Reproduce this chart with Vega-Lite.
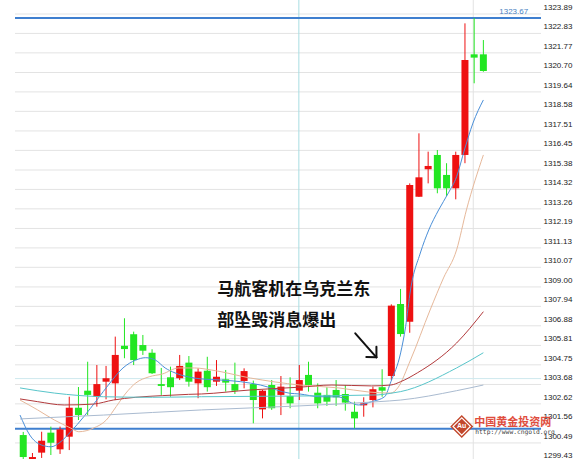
{
  "$schema": "https://vega.github.io/schema/vega-lite/v6.json",
  "width": 526,
  "height": 459,
  "autosize": {"type": "none"},
  "padding": {"left": 15, "top": 0, "right": 36, "bottom": 0},
  "background": "#ffffff",
  "config": {"view": {"stroke": null}, "font": "Liberation Sans"},
  "datasets": {
    "ticks": [
      {"v": 1323.89}, {"v": 1322.83}, {"v": 1321.77}, {"v": 1320.70}, {"v": 1319.64}, {"v": 1318.58},
      {"v": 1317.51}, {"v": 1316.45}, {"v": 1315.38}, {"v": 1314.32}, {"v": 1313.26}, {"v": 1312.19},
      {"v": 1311.13}, {"v": 1310.07}, {"v": 1309.00}, {"v": 1307.94}, {"v": 1306.88}, {"v": 1305.81},
      {"v": 1304.75}, {"v": 1303.68}, {"v": 1302.62}, {"v": 1301.56}, {"v": 1300.49}, {"v": 1299.43}
    ],
    "candles": [
      {"i": 0, "o": 1300.92, "c": 1299.72, "h": 1301.09, "l": 1299.01, "d": "down"},
      {"i": 1, "o": 1299.01, "c": 1299.72, "h": 1299.94, "l": 1298.74, "d": "up"},
      {"i": 2, "o": 1299.96, "c": 1300.61, "h": 1301.10, "l": 1299.67, "d": "up"},
      {"i": 3, "o": 1301.05, "c": 1300.50, "h": 1301.38, "l": 1299.83, "d": "down"},
      {"i": 4, "o": 1300.14, "c": 1301.23, "h": 1301.38, "l": 1299.89, "d": "up"},
      {"i": 5, "o": 1300.83, "c": 1302.41, "h": 1303.01, "l": 1300.10, "d": "up"},
      {"i": 6, "o": 1302.41, "c": 1302.01, "h": 1303.54, "l": 1301.74, "d": "down"},
      {"i": 7, "o": 1303.34, "c": 1303.11, "h": 1304.92, "l": 1302.01, "d": "down"},
      {"i": 8, "o": 1303.01, "c": 1303.70, "h": 1304.74, "l": 1302.47, "d": "up"},
      {"i": 9, "o": 1303.83, "c": 1304.02, "h": 1304.69, "l": 1302.87, "d": "up"},
      {"i": 10, "o": 1303.74, "c": 1305.29, "h": 1306.29, "l": 1302.83, "d": "up"},
      {"i": 11, "o": 1305.79, "c": 1305.61, "h": 1307.29, "l": 1305.11, "d": "down"},
      {"i": 12, "o": 1306.42, "c": 1305.01, "h": 1306.56, "l": 1304.74, "d": "down"},
      {"i": 13, "o": 1305.83, "c": 1305.52, "h": 1306.38, "l": 1305.29, "d": "down"},
      {"i": 14, "o": 1305.41, "c": 1304.29, "h": 1305.60, "l": 1304.25, "d": "down"},
      {"i": 15, "o": 1303.70, "c": 1303.60, "h": 1304.58, "l": 1303.11, "d": "down"},
      {"i": 16, "o": 1304.07, "c": 1303.53, "h": 1304.65, "l": 1303.01, "d": "down"},
      {"i": 17, "o": 1304.02, "c": 1304.69, "h": 1305.29, "l": 1303.92, "d": "up"},
      {"i": 18, "o": 1304.87, "c": 1303.83, "h": 1305.23, "l": 1303.56, "d": "down"},
      {"i": 19, "o": 1303.74, "c": 1304.38, "h": 1304.56, "l": 1302.93, "d": "up"},
      {"i": 20, "o": 1304.43, "c": 1303.53, "h": 1305.19, "l": 1303.29, "d": "down"},
      {"i": 21, "o": 1303.83, "c": 1304.10, "h": 1305.01, "l": 1303.60, "d": "up"},
      {"i": 22, "o": 1303.96, "c": 1303.78, "h": 1304.47, "l": 1303.29, "d": "down"},
      {"i": 23, "o": 1303.70, "c": 1303.34, "h": 1304.87, "l": 1303.16, "d": "down"},
      {"i": 24, "o": 1303.87, "c": 1304.41, "h": 1304.56, "l": 1303.47, "d": "up"},
      {"i": 25, "o": 1303.70, "c": 1302.83, "h": 1303.89, "l": 1301.56, "d": "down"},
      {"i": 26, "o": 1302.32, "c": 1303.34, "h": 1303.38, "l": 1301.83, "d": "up"},
      {"i": 27, "o": 1303.65, "c": 1302.38, "h": 1303.92, "l": 1302.29, "d": "down"},
      {"i": 28, "o": 1303.11, "c": 1303.56, "h": 1304.14, "l": 1302.01, "d": "up"},
      {"i": 29, "o": 1303.05, "c": 1302.65, "h": 1304.07, "l": 1302.38, "d": "down"},
      {"i": 30, "o": 1303.34, "c": 1303.92, "h": 1304.74, "l": 1302.83, "d": "up"},
      {"i": 31, "o": 1304.20, "c": 1303.65, "h": 1304.92, "l": 1303.29, "d": "down"},
      {"i": 32, "o": 1303.23, "c": 1302.65, "h": 1303.74, "l": 1302.38, "d": "down"},
      {"i": 33, "o": 1303.11, "c": 1302.74, "h": 1303.53, "l": 1302.51, "d": "down"},
      {"i": 34, "o": 1303.38, "c": 1302.98, "h": 1303.92, "l": 1302.51, "d": "down"},
      {"i": 35, "o": 1303.16, "c": 1302.69, "h": 1303.65, "l": 1302.25, "d": "down"},
      {"i": 36, "o": 1302.19, "c": 1301.83, "h": 1302.74, "l": 1301.29, "d": "down"},
      {"i": 37, "o": 1302.54, "c": 1302.65, "h": 1302.98, "l": 1301.92, "d": "up"},
      {"i": 38, "o": 1302.83, "c": 1303.42, "h": 1303.56, "l": 1302.43, "d": "up"},
      {"i": 39, "o": 1303.53, "c": 1303.34, "h": 1304.51, "l": 1303.01, "d": "down"},
      {"i": 40, "o": 1304.14, "c": 1307.98, "h": 1308.05, "l": 1303.92, "d": "up"},
      {"i": 41, "o": 1308.07, "c": 1306.43, "h": 1308.89, "l": 1306.29, "d": "down"},
      {"i": 42, "o": 1307.10, "c": 1314.56, "h": 1314.65, "l": 1306.50, "d": "up"},
      {"i": 43, "o": 1313.92, "c": 1314.98, "h": 1317.38, "l": 1313.91, "d": "up"},
      {"i": 44, "o": 1315.42, "c": 1315.60, "h": 1316.38, "l": 1314.65, "d": "up"},
      {"i": 45, "o": 1316.20, "c": 1314.38, "h": 1316.47, "l": 1314.11, "d": "down"},
      {"i": 46, "o": 1315.11, "c": 1314.38, "h": 1315.75, "l": 1313.96, "d": "down"},
      {"i": 47, "o": 1314.38, "c": 1316.20, "h": 1316.38, "l": 1313.78, "d": "up"},
      {"i": 48, "o": 1316.20, "c": 1321.38, "h": 1323.38, "l": 1315.75, "d": "up"},
      {"i": 49, "o": 1321.69, "c": 1321.51, "h": 1323.67, "l": 1320.11, "d": "down"},
      {"i": 50, "o": 1321.69, "c": 1320.78, "h": 1322.47, "l": 1320.74, "d": "down"}
    ],
    "ma": [
      {"ma": "ma5", "i": -0.35, "v": 1302.01}, {"ma": "ma5", "i": 0.71, "v": 1300.92}, {"ma": "ma5", "i": 1.96, "v": 1300.38},
      {"ma": "ma5", "i": 3.03, "v": 1300.28}, {"ma": "ma5", "i": 3.91, "v": 1300.49}, {"ma": "ma5", "i": 5.16, "v": 1301.10},
      {"ma": "ma5", "i": 6.58, "v": 1301.92}, {"ma": "ma5", "i": 8.0, "v": 1302.83}, {"ma": "ma5", "i": 9.42, "v": 1303.76},
      {"ma": "ma5", "i": 10.84, "v": 1304.58}, {"ma": "ma5", "i": 12.23, "v": 1305.01}, {"ma": "ma5", "i": 13.29, "v": 1305.14},
      {"ma": "ma5", "i": 14.36, "v": 1305.01}, {"ma": "ma5", "i": 15.42, "v": 1304.58}, {"ma": "ma5", "i": 16.49, "v": 1304.31},
      {"ma": "ma5", "i": 17.95, "v": 1304.09}, {"ma": "ma5", "i": 19.37, "v": 1303.98}, {"ma": "ma5", "i": 21.5, "v": 1303.92},
      {"ma": "ma5", "i": 23.64, "v": 1303.83}, {"ma": "ma5", "i": 25.77, "v": 1303.65}, {"ma": "ma5", "i": 28.97, "v": 1303.2},
      {"ma": "ma5", "i": 30.03, "v": 1303.16}, {"ma": "ma5", "i": 32.17, "v": 1303.01}, {"ma": "ma5", "i": 34.3, "v": 1303.0},
      {"ma": "ma5", "i": 35.68, "v": 1302.67}, {"ma": "ma5", "i": 36.43, "v": 1302.56}, {"ma": "ma5", "i": 37.84, "v": 1302.74},
      {"ma": "ma5", "i": 39.27, "v": 1303.01}, {"ma": "ma5", "i": 39.95, "v": 1303.83}, {"ma": "ma5", "i": 41.01, "v": 1305.4},
      {"ma": "ma5", "i": 41.55, "v": 1306.83}, {"ma": "ma5", "i": 42.08, "v": 1308.83}, {"ma": "ma5", "i": 43.15, "v": 1310.85},
      {"ma": "ma5", "i": 44.07, "v": 1312.11}, {"ma": "ma5", "i": 45.14, "v": 1313.2}, {"ma": "ma5", "i": 46.2, "v": 1314.13},
      {"ma": "ma5", "i": 47.09, "v": 1315.01}, {"ma": "ma5", "i": 47.94, "v": 1316.47}, {"ma": "ma5", "i": 48.87, "v": 1317.94},
      {"ma": "ma5", "i": 50.0, "v": 1319.2},

      {"ma": "ma10", "i": -0.35, "v": 1302.83}, {"ma": "ma10", "i": 1.57, "v": 1302.29}, {"ma": "ma10", "i": 3.38, "v": 1301.74},
      {"ma": "ma10", "i": 5.16, "v": 1301.3}, {"ma": "ma10", "i": 6.04, "v": 1301.1}, {"ma": "ma10", "i": 7.64, "v": 1301.3},
      {"ma": "ma10", "i": 9.03, "v": 1301.74}, {"ma": "ma10", "i": 10.1, "v": 1302.47}, {"ma": "ma10", "i": 11.16, "v": 1303.21},
      {"ma": "ma10", "i": 12.23, "v": 1303.76}, {"ma": "ma10", "i": 13.69, "v": 1304.1}, {"ma": "ma10", "i": 15.11, "v": 1304.25},
      {"ma": "ma10", "i": 16.89, "v": 1304.58}, {"ma": "ma10", "i": 18.62, "v": 1304.58}, {"ma": "ma10", "i": 20.44, "v": 1304.47},
      {"ma": "ma10", "i": 24.7, "v": 1304.03}, {"ma": "ma10", "i": 30.03, "v": 1303.65}, {"ma": "ma10", "i": 34.3, "v": 1303.49},
      {"ma": "ma10", "i": 37.5, "v": 1303.27}, {"ma": "ma10", "i": 39.95, "v": 1303.21}, {"ma": "ma10", "i": 40.69, "v": 1303.49},
      {"ma": "ma10", "i": 42.08, "v": 1305.01}, {"ma": "ma10", "i": 44.21, "v": 1307.74}, {"ma": "ma10", "i": 45.67, "v": 1309.49},
      {"ma": "ma10", "i": 47.09, "v": 1311.02}, {"ma": "ma10", "i": 48.16, "v": 1313.2}, {"ma": "ma10", "i": 50.0, "v": 1316.2},

      {"ma": "ma20", "i": -0.35, "v": 1302.89}, {"ma": "ma20", "i": 1.57, "v": 1302.74}, {"ma": "ma20", "i": 4.45, "v": 1302.56},
      {"ma": "ma20", "i": 7.64, "v": 1302.61}, {"ma": "ma20", "i": 9.78, "v": 1302.83}, {"ma": "ma20", "i": 12.23, "v": 1302.98},
      {"ma": "ma20", "i": 15.11, "v": 1303.07}, {"ma": "ma20", "i": 17.95, "v": 1303.14}, {"ma": "ma20", "i": 19.37, "v": 1303.16},
      {"ma": "ma20", "i": 24.7, "v": 1303.38}, {"ma": "ma20", "i": 30.03, "v": 1303.53}, {"ma": "ma20", "i": 33.55, "v": 1303.65},
      {"ma": "ma20", "i": 37.84, "v": 1303.6}, {"ma": "ma20", "i": 39.95, "v": 1303.65}, {"ma": "ma20", "i": 41.01, "v": 1303.83},
      {"ma": "ma20", "i": 42.82, "v": 1304.31}, {"ma": "ma20", "i": 47.09, "v": 1305.94}, {"ma": "ma20", "i": 50.0, "v": 1307.65},

      {"ma": "ma30", "i": -0.35, "v": 1303.49}, {"ma": "ma30", "i": 3.38, "v": 1303.21}, {"ma": "ma30", "i": 8.71, "v": 1303.01},
      {"ma": "ma30", "i": 14.04, "v": 1302.98}, {"ma": "ma30", "i": 19.37, "v": 1303.01}, {"ma": "ma30", "i": 30.03, "v": 1303.05},
      {"ma": "ma30", "i": 38.56, "v": 1303.11}, {"ma": "ma30", "i": 39.95, "v": 1303.2}, {"ma": "ma30", "i": 41.01, "v": 1303.29},
      {"ma": "ma30", "i": 47.09, "v": 1304.58}, {"ma": "ma30", "i": 50.0, "v": 1305.41},

      {"ma": "ma60", "i": -0.35, "v": 1301.8}, {"ma": "ma60", "i": 8.71, "v": 1302.01}, {"ma": "ma60", "i": 19.37, "v": 1302.29},
      {"ma": "ma60", "i": 30.03, "v": 1302.51}, {"ma": "ma60", "i": 38.56, "v": 1302.74}, {"ma": "ma60", "i": 41.01, "v": 1302.83},
      {"ma": "ma60", "i": 47.09, "v": 1303.34}, {"ma": "ma60", "i": 50.0, "v": 1303.65}
    ],
    "levels": [{"v": 1323.67}, {"v": 1301.27}],
    "separators": [{"i": 29.95, "kind": "session"}, {"i": 48.9, "kind": "day"}],
    "note": [
      {"i": 21.08, "v": 1308.83, "t": "马航客机在乌克兰东"},
      {"i": 21.08, "v": 1307.14, "t": "部坠毁消息爆出"}
    ],
    "arrow": [
      {"i": 36.08, "v": 1306.47, "i2": 38.38, "v2": 1305.16},
      {"i": 37.28, "v": 1305.18, "i2": 38.38, "v2": 1305.16},
      {"i": 38.38, "v": 1305.74, "i2": 38.38, "v2": 1305.16}
    ]
  },
  "layer": [
    {
      "resolve": {"scale": {"color": "independent"}},
      "layer": [
        {
          "data": {"name": "ticks"},
          "mark": {"type": "rule", "color": "#e3e3e3", "strokeWidth": 1},
          "encoding": {
            "y": {"field": "v", "type": "quantitative", "scale": {"domain": [1299.613, 1324.654], "nice": false, "zero": false}, "axis": null}
          }
        },
        {
          "data": {"name": "separators"},
          "mark": {"type": "rule", "strokeWidth": 1},
          "encoding": {
            "x": {"field": "i", "type": "quantitative", "scale": {"domain": [-0.352, 55.72], "nice": false, "zero": false}, "axis": null},
            "color": {"field": "kind", "type": "nominal", "scale": {"domain": ["session", "day"], "range": ["#a9dde2", "#e2e2e2"]}, "legend": null}
          }
        },
        {
          "data": {"values": [{"v": 1304.0}]},
          "mark": {"type": "rule", "color": "#cfe9ee", "strokeWidth": 1},
          "encoding": {
            "y": {"field": "v", "type": "quantitative", "scale": {"domain": [1299.613, 1324.654], "nice": false, "zero": false}, "axis": null}
          }
        },
        {
          "data": {"name": "levels"},
          "mark": {"type": "rule", "color": "#3f7fcf", "strokeWidth": 2},
          "encoding": {
            "y": {"field": "v", "type": "quantitative", "scale": {"domain": [1299.613, 1324.654], "nice": false, "zero": false}, "axis": null}
          }
        },
        {
          "data": {"name": "candles"},
          "mark": {"type": "rule", "strokeWidth": 1},
          "encoding": {
            "x": {"field": "i", "type": "quantitative", "scale": {"domain": [-0.352, 55.72], "nice": false, "zero": false}, "axis": null},
            "y": {"field": "l", "type": "quantitative", "scale": {"domain": [1299.613, 1324.654], "nice": false, "zero": false}, "axis": null},
            "y2": {"field": "h"},
            "color": {"field": "d", "type": "nominal", "scale": {"domain": ["up", "down"], "range": ["#ee1111", "#22e622"]}, "legend": null}
          }
        },
        {
          "data": {"name": "candles"},
          "mark": {"type": "bar", "size": 7},
          "encoding": {
            "x": {"field": "i", "type": "quantitative", "scale": {"domain": [-0.352, 55.72], "nice": false, "zero": false}, "axis": null},
            "y": {"field": "o", "type": "quantitative", "scale": {"domain": [1299.613, 1324.654], "nice": false, "zero": false}, "axis": null},
            "y2": {"field": "c"},
            "color": {"field": "d", "type": "nominal", "scale": {"domain": ["up", "down"], "range": ["#ee1111", "#22e622"]}, "legend": null}
          }
        },
        {
          "data": {"name": "ma"},
          "mark": {"type": "line", "strokeWidth": 1, "interpolate": "monotone"},
          "encoding": {
            "x": {"field": "i", "type": "quantitative", "scale": {"domain": [-0.352, 55.72], "nice": false, "zero": false}, "axis": null},
            "y": {"field": "v", "type": "quantitative", "scale": {"domain": [1299.613, 1324.654], "nice": false, "zero": false}, "axis": null},
            "color": {"field": "ma", "type": "nominal", "scale": {"domain": ["ma5", "ma10", "ma20", "ma30", "ma60"], "range": ["#4a8fd8", "#e6b89a", "#b23a3c", "#58c5ca", "#aabbd0"]}, "legend": null}
          }
        },
        {
          "data": {"values": [{"i": 54.87, "v": 1323.67, "t": "1323.67"}]},
          "mark": {"type": "text", "align": "right", "baseline": "bottom", "dy": -2, "fontSize": 8, "font": "Liberation Sans", "color": "#4a7fbf"},
          "encoding": {
            "x": {"field": "i", "type": "quantitative", "scale": {"domain": [-0.352, 55.72], "nice": false, "zero": false}, "axis": null},
            "y": {"field": "v", "type": "quantitative", "scale": {"domain": [1299.613, 1324.654], "nice": false, "zero": false}, "axis": null},
            "text": {"field": "t"}
          }
        },
        {
          "data": {"name": "note"},
          "mark": {"type": "text", "align": "left", "baseline": "middle", "fontSize": 17, "fontWeight": "bold", "font": "Noto Sans CJK SC", "color": "#111111"},
          "encoding": {
            "x": {"field": "i", "type": "quantitative", "scale": {"domain": [-0.352, 55.72], "nice": false, "zero": false}, "axis": null},
            "y": {"field": "v", "type": "quantitative", "scale": {"domain": [1299.613, 1324.654], "nice": false, "zero": false}, "axis": null},
            "text": {"field": "t"}
          }
        },
        {
          "data": {"name": "arrow"},
          "mark": {"type": "rule", "color": "#111111", "strokeWidth": 2, "strokeCap": "round"},
          "encoding": {
            "x": {"field": "i", "type": "quantitative", "scale": {"domain": [-0.352, 55.72], "nice": false, "zero": false}, "axis": null},
            "y": {"field": "v", "type": "quantitative", "scale": {"domain": [1299.613, 1324.654], "nice": false, "zero": false}, "axis": null},
            "x2": {"field": "i2"},
            "y2": {"field": "v2"}
          }
        },
        {
          "data": {"values": [{"i": 47.65, "v": 1301.39}]},
          "mark": {"type": "point", "shape": "diamond", "size": 530, "filled": true, "color": "#c2472b", "opacity": 1},
          "encoding": {
            "x": {"field": "i", "type": "quantitative", "scale": {"domain": [-0.352, 55.72], "nice": false, "zero": false}, "axis": null},
            "y": {"field": "v", "type": "quantitative", "scale": {"domain": [1299.613, 1324.654], "nice": false, "zero": false}, "axis": null}
          }
        },
        {
          "data": {"values": [{"i": 47.65, "v": 1301.39}]},
          "mark": {"type": "point", "shape": "diamond", "size": 300, "filled": false, "stroke": "#ffffff", "strokeWidth": 1.2, "opacity": 1},
          "encoding": {
            "x": {"field": "i", "type": "quantitative", "scale": {"domain": [-0.352, 55.72], "nice": false, "zero": false}, "axis": null},
            "y": {"field": "v", "type": "quantitative", "scale": {"domain": [1299.613, 1324.654], "nice": false, "zero": false}, "axis": null}
          }
        },
        {
          "data": {"values": [{"i": 47.65, "v": 1301.39, "t": "Au"}]},
          "mark": {"type": "text", "align": "center", "baseline": "middle", "fontSize": 7, "fontWeight": "bold", "color": "#ffffff"},
          "encoding": {
            "x": {"field": "i", "type": "quantitative", "scale": {"domain": [-0.352, 55.72], "nice": false, "zero": false}, "axis": null},
            "y": {"field": "v", "type": "quantitative", "scale": {"domain": [1299.613, 1324.654], "nice": false, "zero": false}, "axis": null},
            "text": {"field": "t"}
          }
        },
        {
          "data": {"values": [{"i": 49.01, "v": 1301.58, "t": "中国黄金投资网"}]},
          "mark": {"type": "text", "align": "left", "baseline": "middle", "fontSize": 11, "fontWeight": "bold", "font": "Noto Sans CJK SC", "color": "#dd3a2a", "opacity": 0.9},
          "encoding": {
            "x": {"field": "i", "type": "quantitative", "scale": {"domain": [-0.352, 55.72], "nice": false, "zero": false}, "axis": null},
            "y": {"field": "v", "type": "quantitative", "scale": {"domain": [1299.613, 1324.654], "nice": false, "zero": false}, "axis": null},
            "text": {"field": "t"}
          }
        },
        {
          "data": {"values": [{"i": 49.12, "v": 1301.08, "t": "http://www.cngold.org"}]},
          "mark": {"type": "text", "align": "left", "baseline": "middle", "fontSize": 6.3, "font": "DejaVu Sans Mono", "color": "#444444"},
          "encoding": {
            "x": {"field": "i", "type": "quantitative", "scale": {"domain": [-0.352, 55.72], "nice": false, "zero": false}, "axis": null},
            "y": {"field": "v", "type": "quantitative", "scale": {"domain": [1299.613, 1324.654], "nice": false, "zero": false}, "axis": null},
            "text": {"field": "t"}
          }
        }
      ]
    },
    {
      "data": {"name": "ticks"},
      "mark": {"type": "point", "opacity": 0},
      "encoding": {
        "y": {
          "field": "v",
          "type": "quantitative",
          "scale": {"domain": [1299.258, 1324.299], "nice": false, "zero": false},
          "axis": {
            "orient": "right",
            "values": [1323.89, 1322.83, 1321.77, 1320.70, 1319.64, 1318.58, 1317.51, 1316.45, 1315.38, 1314.32, 1313.26, 1312.19, 1311.13, 1310.07, 1309.00, 1307.94, 1306.88, 1305.81, 1304.75, 1303.68, 1302.62, 1301.56, 1300.49, 1299.43],
            "format": ".2f",
            "grid": false,
            "ticks": false,
            "domain": false,
            "title": null,
            "labelFont": "Liberation Sans",
            "labelFontSize": 8,
            "labelColor": "#222222",
            "labelPadding": 2,
            "labelAlign": "left",
            "labelBaseline": "middle",
            "labelOverlap": false,
            "labelFlush": false,
            "labelBound": false
          }
        }
      }
    }
  ],
  "resolve": {"scale": {"y": "independent"}}
}
